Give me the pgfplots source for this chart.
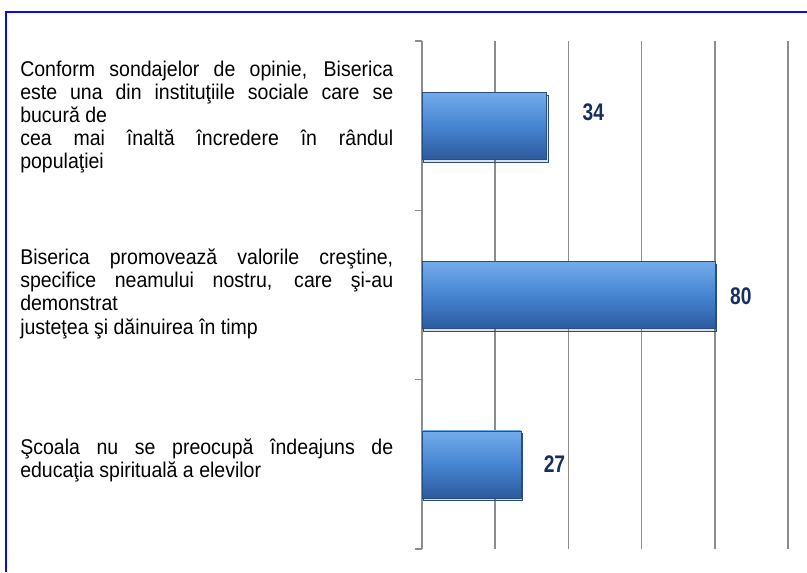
\documentclass[border=0pt]{standalone}
\usepackage{pgfplots}
\pgfplotsset{compat=1.18}
\usepackage{graphicx}
\usepackage{fontspec}
\setmainfont{Liberation Sans}
\definecolor{frameblue}{RGB}{10,10,240}
\definecolor{gridgray}{RGB}{140,140,140}
\definecolor{bartop}{RGB}{115,172,235}
\definecolor{barmid}{RGB}{70,133,210}
\definecolor{barbot}{RGB}{45,90,158}
\definecolor{barline}{RGB}{42,78,130}
\definecolor{labelnavy}{RGB}{22,46,96}
% text is a little narrow in the reference: set larger, then squeeze
\newcommand{\sq}[1]{\scalebox{0.915}[1]{#1}}
\newcommand{\jline}[1]{\sq{\makebox[305.7pt][s]{#1}}}
\newcommand{\vlab}[1]{\scalebox{0.8}[1]{#1}}
\pgfplotsset{barstyle/.style={draw=barline, line width=0.4pt,
  top color=bartop, bottom color=barbot, middle color=barmid,
  preaction={fill=black, fill opacity=0.08,
    transform canvas={xshift=1.2pt, yshift=-2pt}}}}
\begin{document}
\begin{tikzpicture}[x=0.75pt,y=0.75pt]
\useasboundingbox (0,0) rectangle (807,572);
\draw[frameblue, line width=1.5pt] (6,0) -- (6,560) -- (808,560);

% category texts (pixel grid, y measured from the bottom)
\begin{scope}[every node/.style={anchor=base west, inner sep=0pt,
    font=\fontsize{16}{17}\selectfont}]
\node at (20,495) {\jline{Conform sondajelor de opinie, Biserica}};
\node at (20,472) {\jline{este una din instituţiile sociale care se}};
\node at (20,449) {\sq{bucură de}};
\node at (20,426) {\jline{cea mai înaltă încredere în rândul}};
\node at (20,403) {\sq{populaţiei}};
\node at (20,307) {\jline{Biserica promovează valorile creştine,}};
\node at (20,284) {\jline{specifice neamului nostru, care şi-au}};
\node at (20,261) {\sq{demonstrat}};
\node at (20,238) {\sq{justeţea şi dăinuirea în timp}};
\node at (20,118) {\jline{Şcoala nu se preocupă îndeajuns de}};
\node at (20,95) {\sq{educaţia spirituală a elevilor}};
\end{scope}

\begin{axis}[
  at={(316.5pt,17.25pt)}, anchor=south west,
  scale only axis, width=274.5pt, height=381pt,
  xbar, bar width=50.25pt, bar shift=0pt,
  xmin=0, xmax=100, ymin=-0.5, ymax=2.5,
  xtick={0,20,40,60,80,100}, xticklabels={},
  xmajorgrids, grid style={gridgray, line width=1.1pt},
  xtick style={draw=none},
  ytick={-0.5,0.5,1.5,2.5}, yticklabels={}, ytick pos=left,
  ytick style={gridgray, line width=1.1pt},
  tick align=outside, major tick length=5.25pt,
  axis line style={draw=none},
  clip=false,
]
\addplot[barstyle] coordinates {(27,0)};
\addplot[barstyle] coordinates {(80,1)};
\addplot[barstyle] coordinates {(34,2)};

\begin{scope}[every node/.style={labelnavy, inner sep=0pt,
    font=\bfseries\fontsize{18}{18}\selectfont}]
\node at (axis cs:46.8,2.08) {\vlab{34}};
\node at (axis cs:87.1,0.99) {\vlab{80}};
\node at (axis cs:36.2,0.00) {\vlab{27}};
\end{scope}
\end{axis}
\end{tikzpicture}
\end{document}
